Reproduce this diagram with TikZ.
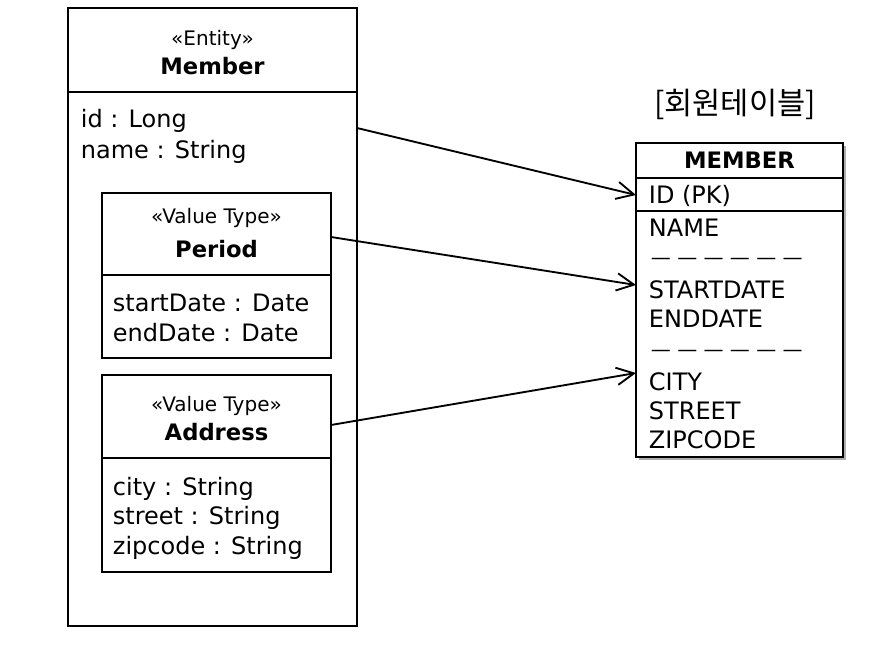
\documentclass[tikz,border=0pt]{standalone}
\usepackage{fontspec}
\setmainfont{DejaVu Sans}
\newfontfamily\krfont{Noto Sans CJK KR}
\usetikzlibrary{arrows.meta, positioning, shadows}

\tikzset{
  classbox/.style={draw, rectangle, anchor=north west, inner sep=0pt, outer sep=0pt},
  attr/.style={anchor=base west, inner sep=0pt, font=\fontsize{18}{20}\selectfont},
  stereo/.style={anchor=base, inner sep=0pt, font=\fontsize{15}{17}\selectfont},
  classname/.style={anchor=base, inner sep=0pt, font=\bfseries\fontsize{17}{19}\selectfont},
}

\begin{document}
\begin{tikzpicture}[x=0.75pt, y=-0.75pt, line width=1.4pt, >={Straight Barb[length=13pt, width=13pt]}]
    \useasboundingbox (0,0) rectangle (883,650);

    % entity Member
    \node [classbox, minimum width=216.75pt, minimum height=463.5pt] (member) at (68,8) {};
    \node [classbox, minimum width=216.75pt, minimum height=63pt] (memberhead) at (member.north west) {};
    \node [stereo] (memberstereo) at (212.5,45) {«Entity»};
    \node [classname] (membername) at (212.5,74) {Member};
    \node [attr] (memberid) at (80,127) {id : Long};
    \node [attr] (membernm) at (80,158) {name : String};

    % value type Period
    \node [classbox, minimum width=171.75pt, minimum height=123.75pt] (period) at (102,193) {};
    \node [classbox, minimum width=171.75pt, minimum height=61.5pt] (periodhead) at (period.north west) {};
    \node [stereo] (periodstereo) at (216.5,223) {«Value Type»};
    \node [classname] (periodname) at (216.5,257) {Period};
    \node [attr] (periodstart) at (112,311) {startDate : Date};
    \node [attr] (periodend) at (112,341) {endDate : Date};

    % value type Address
    \node [classbox, minimum width=171.75pt, minimum height=147.75pt] (address) at (102,375) {};
    \node [classbox, minimum width=171.75pt, minimum height=62.25pt] (addresshead) at (address.north west) {};
    \node [stereo] (addressstereo) at (216.5,411) {«Value Type»};
    \node [classname] (addressname) at (216.5,440) {Address};
    \node [attr] (addresscity) at (112,495) {city : String};
    \node [attr] (addressstreet) at (112,524) {street : String};
    \node [attr] (addresszip) at (112,554) {zipcode : String};

    % table MEMBER
    \node [anchor=base, inner sep=0pt, font=\krfont\fontsize{23}{25}\selectfont] (tabletitle) at (735,114) {[회원테이블]};
    \node [classbox, line width=1.6pt, fill=white, drop shadow={shadow xshift=2pt, shadow yshift=-2.5pt, opacity=0.45, fill=black!70},
           minimum width=155.25pt, minimum height=235.5pt] (table) at (636,143) {};
    \node [classbox, line width=1.6pt, minimum width=155.25pt, minimum height=26.25pt] (tablehead) at (table.north west) {};
    \node [classbox, line width=1.6pt, minimum width=155.25pt, minimum height=24.75pt] (pkrow) at (tablehead.south west) {};
    \node [classname] (tablename) at (739.5,168) {MEMBER};
    \node [attr] (colid) at (648,203) {ID (PK)};
    \node [attr] (colname) at (648,236) {NAME};
    \node [attr, font=\fontsize{15}{17}\selectfont] (sep1) at (650,264) {— — — — — —};
    \node [attr] (colstart) at (648,298) {STARTDATE};
    \node [attr] (colend) at (648,327) {ENDDATE};
    \node [attr, font=\fontsize{15}{17}\selectfont] (sep2) at (650,356) {— — — — — —};
    \node [attr] (colcity) at (648,390) {CITY};
    \node [attr] (colstreet) at (648,419) {STREET};
    \node [attr] (colzip) at (648,448) {ZIPCODE};

    \coordinate (idsrc) at (357,128);
    \coordinate (periodsrc) at (331,237);
    \coordinate (addresssrc) at (331,425);
    \coordinate (idtgt) at (636,195);
    \coordinate (periodtgt) at (636,285);
    \coordinate (addresstgt) at (636,373);

    \draw [->] (idsrc) -- (idtgt);
    \draw [->] (periodsrc) -- (periodtgt);
    \draw [->] (addresssrc) -- (addresstgt);
\end{tikzpicture}
\end{document}
